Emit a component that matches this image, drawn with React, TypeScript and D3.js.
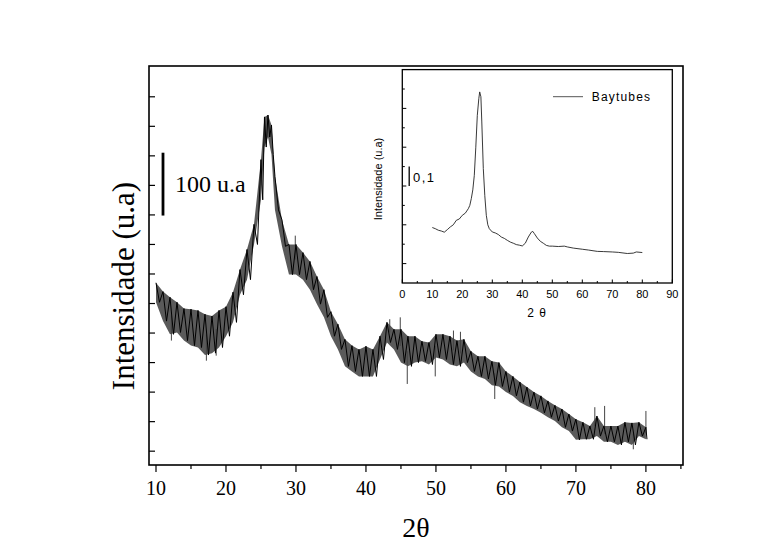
import * as d3 from "d3";

// main diffractogram, read per degree: upper / lower edge of the noisy trace (u.a)
const mainTheta = [10, 11, 12, 13, 14, 15, 16, 17, 18, 19, 20, 21, 22, 23, 24, 25, 25.5, 26, 26.5,
  27, 28, 29, 30, 31, 32, 33, 34, 35, 36, 37, 38, 39, 40, 41, 42, 43, 44, 45, 46, 47, 48, 49, 50,
  51, 52, 53, 54, 55, 56, 57, 58, 59, 60, 61, 62, 63, 64, 65, 66, 67, 68, 69, 70, 71, 72, 73, 74,
  75, 76, 77, 78, 79, 80];
const mainHigh = [290, 276, 267, 259, 249, 248, 246, 240, 237, 246, 252, 275, 311, 343, 383, 486, 554, 557, 541,
  459, 390, 351, 351, 338, 324, 300, 279, 244, 224, 200, 190, 184, 189, 184, 205, 227, 216, 216, 205,
  205, 197, 195, 208, 208, 205, 198, 200, 181, 173, 173, 165, 163, 149, 141, 132, 124, 116, 110, 102,
  95, 89, 81, 73, 68, 62, 78, 62, 62, 62, 68, 67, 68, 60];
const mainLow = [259, 229, 208, 211, 198, 190, 187, 175, 178, 187, 205, 227, 271, 295, 351, 422, 506, 522, 494,
  406, 348, 303, 303, 295, 279, 256, 235, 205, 184, 157, 149, 141, 141, 141, 168, 195, 184, 163, 157,
  163, 165, 160, 171, 168, 160, 157, 163, 149, 141, 137, 127, 125, 116, 110, 100, 94, 89, 83, 76,
  70, 60, 54, 40, 41, 41, 46, 37, 37, 32, 37, 32, 46, 41];
// isolated spikes  [2theta, u.a]
const mainSpikes = [[12.2, 198], [17.2, 166], [18.6, 174], [29.9, 365], [43.4, 232], [44.9, 235],
  [45.9, 129], [49.9, 141], [52.5, 214], [53.5, 212], [58.4, 105], [72.7, 92], [74.1, 94], [78.2, 25], [80, 86]];

const mainXTicks = [10, 20, 30, 40, 50, 60, 70, 80];
const mainXMinor = [15, 25, 35, 45, 55, 65, 75, 85];
const mainYTicks = [22, 69, 116, 163, 210, 257, 304, 351, 398, 445, 492, 539, 586];

// inset (Baytubes)
const insetTheta = [10, 11, 12, 13, 14, 15, 16, 17, 18, 19, 20, 21, 22, 22.5, 23, 23.5, 24, 24.5, 25, 25.5,
  25.8, 26.2, 26.5, 27, 27.5, 28, 28.5, 29, 30, 31, 32, 33, 34, 35, 36, 37, 38, 39, 40, 41, 42, 43, 43.5,
  44, 45, 46, 47, 48, 49, 50, 52, 54, 55, 57, 60, 62, 65, 67, 70, 72, 75, 77, 78, 80];
const insetValue = [0.286, 0.28, 0.272, 0.268, 0.262, 0.275, 0.289, 0.3, 0.323, 0.33, 0.349, 0.36, 0.383, 0.4,
  0.435, 0.48, 0.555, 0.7, 0.864, 0.95, 0.985, 0.96, 0.83, 0.59, 0.45, 0.349, 0.3, 0.28, 0.263, 0.258, 0.25,
  0.237, 0.23, 0.22, 0.211, 0.205, 0.198, 0.195, 0.191, 0.205, 0.237, 0.262, 0.266, 0.255, 0.232, 0.215,
  0.205, 0.194, 0.19, 0.19, 0.188, 0.19, 0.186, 0.18, 0.174, 0.17, 0.163, 0.162, 0.16, 0.158, 0.152, 0.154,
  0.16, 0.157];
const insetXTicks = [0, 10, 20, 30, 40, 50, 60, 70, 80, 90];
const insetXMinor = [5, 15, 25, 35, 45, 55, 65, 75, 85];
const insetYTicks = [0.1, 0.2, 0.3, 0.4, 0.5, 0.6, 0.7, 0.8, 0.9, 1.0];

const serif = "'Liberation Serif', 'Times New Roman', serif";
const sans = "'Liberation Sans', Arial, sans-serif";

export default function App() {
  const x = d3.scaleLinear().domain([9, 85.3]).range([149, 683]);
  const y = d3.scaleLinear().domain([0, 635]).range([465, 66]);

  const ix = d3.scaleLinear().domain([0, 90]).range([402.3, 672.3]);
  const iy = d3.scaleLinear().domain([0, 1.1]).range([283, 69.6]);

  // zigzag: upper edge at each angle, lower edge half way to the next one
  const zig: [number, number][] = [];
  mainTheta.forEach((t, i) => {
    zig.push([t, mainHigh[i]]);
    const next = i < mainTheta.length - 1 ? mainTheta[i + 1] : t + 0.3;
    zig.push([(t + next) / 2, mainLow[i]]);
  });
  const line = d3.line<[number, number]>().x(d => x(d[0])).y(d => y(d[1]));
  const band = d3.area<number>()
    .x((_, i) => x(mainTheta[i]))
    .y0((_, i) => y(mainLow[i]))
    .y1((_, i) => y(mainHigh[i]));

  const mid = (t: number) => {
    const i = d3.minIndex(mainTheta, v => Math.abs(v - t));
    return (mainHigh[i] + mainLow[i]) / 2;
  };

  const insetLine = d3.line<number>().x((_, i) => ix(insetTheta[i])).y(d => iy(d));

  return (
    <svg width={773} height={546} style={{ position: "absolute", left: 0, top: 0, background: "#fff" }}>
      <rect x={0} y={0} width={773} height={546} fill="#fff" />

      {/* main trace */}
      <path d={band(mainTheta) ?? ""} fill="#1a1a1a" opacity={0.72} />
      {mainSpikes.map(([t, v], i) => (
        <line key={i} x1={x(t)} x2={x(t)} y1={y(mid(t))} y2={y(v)} stroke="#444" strokeWidth={1} />
      ))}
      <path d={line(zig) ?? ""} fill="none" stroke="#000" strokeWidth={1} />

      {/* main frame and ticks */}
      <rect x={149} y={66} width={534} height={399} fill="none" stroke="#000" strokeWidth={1.6} />
      {mainYTicks.map(v => (
        <line key={v} x1={149} x2={155} y1={y(v)} y2={y(v)} stroke="#000" strokeWidth={1.2} />
      ))}
      {mainXTicks.map(v => (
        <g key={v}>
          <line x1={x(v)} x2={x(v)} y1={465} y2={472} stroke="#000" strokeWidth={1.2} />
          <text x={x(v)} y={495} textAnchor="middle" fontFamily={serif} fontSize={20}>{v}</text>
        </g>
      ))}
      {mainXMinor.map(v => (
        <line key={v} x1={x(v)} x2={x(v)} y1={465} y2={469} stroke="#000" strokeWidth={1.2} />
      ))}
      <text x={416} y={537} textAnchor="middle" fontFamily={serif} fontSize={28}>2θ</text>
      <text transform="translate(134,286) rotate(-90)" textAnchor="middle" fontFamily={serif} fontSize={31}>
        Intensidade (u.a)
      </text>

      {/* 100 u.a scale bar */}
      <line x1={x(11)} x2={x(11)} y1={y(397)} y2={y(497)} stroke="#000" strokeWidth={2.8} />
      <text x={175} y={192} fontFamily={serif} fontSize={24}>100 u.a</text>

      {/* inset */}
      <rect x={402.3} y={69.6} width={270} height={213.4} fill="#fff" stroke="#000" strokeWidth={1.3} />
      <path d={insetLine(insetValue) ?? ""} fill="none" stroke="#222" strokeWidth={0.9} />
      {insetYTicks.map((v, i) => (
        <line key={v} x1={402.3} x2={402.3 + (i % 2 === 0 ? 4 : 2.5)} y1={iy(v)} y2={iy(v)} stroke="#000" strokeWidth={1} />
      ))}
      {insetXTicks.map(v => (
        <g key={v}>
          <line x1={ix(v)} x2={ix(v)} y1={283} y2={279.5} stroke="#000" strokeWidth={1} />
          <text x={ix(v)} y={297.5} textAnchor="middle" fontFamily={sans} fontSize={11}>{v}</text>
        </g>
      ))}
      {insetXMinor.map(v => (
        <line key={v} x1={ix(v)} x2={ix(v)} y1={283} y2={281} stroke="#000" strokeWidth={1} />
      ))}
      <text x={537} y={316.5} textAnchor="middle" fontFamily={sans} fontSize={12} letterSpacing={1}>2 θ</text>
      <text transform="translate(382,179) rotate(-90)" textAnchor="middle" fontFamily={sans} fontSize={11}>
        Intensidade (u.a)
      </text>
      <line x1={ix(2.3)} x2={ix(2.3)} y1={iy(0.5)} y2={iy(0.6)} stroke="#000" strokeWidth={1.3} />
      <text x={413} y={182} fontFamily={sans} fontSize={13} letterSpacing={1.5}>0,1</text>
      <line x1={553} x2={583} y1={96.7} y2={96.7} stroke="#555" strokeWidth={1} />
      <text x={591.7} y={101} fontFamily={sans} fontSize={12} letterSpacing={1.2}>Baytubes</text>
    </svg>
  );
}
